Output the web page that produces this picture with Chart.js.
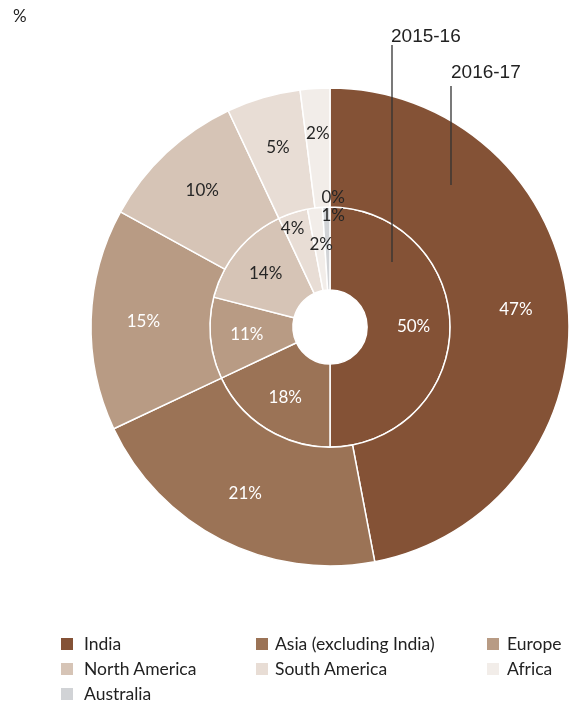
<!DOCTYPE html>
<html>
<head>
<meta charset="utf-8">
<script src="https://cdn.jsdelivr.net/npm/chart.js@4"></script>
<style>
  body { margin:0; background:#fff; }
  #wrap { position:relative; width:573px; height:705px; overflow:hidden; }
  #unit { position:absolute; left:13px; top:5px; font:17px Lato, "Open Sans", sans-serif; color:#222; }
  #legend { position:absolute; left:0; top:0; }
  .item { position:absolute; font:17.5px/22px Lato, "Open Sans", sans-serif; color:#222; white-space:nowrap; }
  .item span { position:absolute; left:0; top:5px; width:12px; height:12px; }
  .item b { font-weight:normal; position:absolute; top:0; }
</style>
</head>
<body>
<div id="wrap">
  <canvas id="c" width="573" height="705"></canvas>
  <div id="unit">%</div>
  <div id="legend"></div>
</div>
<script>
var categories = ["India", "Asia (excluding India)", "Europe", "North America", "South America", "Africa", "Australia"]
var share_2016_17 = [47, 21, 15, 10, 5, 2, 0]
var share_2015_16 = [50, 18, 11, 14, 4, 2, 1]
var years = ["2016-17", "2015-16"]
var colors = ["#845236", "#9b7356", "#b89b84", "#d6c4b6", "#e8ddd5", "#f2ede9", "#d1d3d6"]
var label_colors = ["#fff", "#fff", "#fff", "#262626", "#262626", "#262626", "#262626"]

// hand placed labels for the thin slices (ring index, slice index) -> [radius, angle shift]
var label_fix = {
  "0-5": [194, 0],
  "0-6": [130, 0.025],
  "1-4": [105, -0.05],
  "1-5": [83, 0.02],
  "1-6": [112, 0.06]
}

var labelPlugin = {
  id: "labels",
  afterDatasetsDraw: function (chart) {
    var ctx = chart.ctx
    ctx.save()
    ctx.font = "17px Lato, 'Open Sans', sans-serif"
    ctx.textAlign = "center"
    ctx.textBaseline = "middle"
    var cx, cy
    chart.data.datasets.forEach(function (ds, di) {
      var meta = chart.getDatasetMeta(di)
      meta.data.forEach(function (arc, i) {
        var p = arc.getProps(["x", "y", "startAngle", "endAngle", "innerRadius", "outerRadius"], true)
        cx = p.x; cy = p.y
        var a = (p.startAngle + p.endAngle) / 2
        var r = p.innerRadius + (p.outerRadius - p.innerRadius) * 0.56
        var fix = label_fix[di + "-" + i]
        if (fix) { r = fix[0]; a += fix[1] }
        ctx.fillStyle = label_colors[i]
        ctx.fillText(ds.data[i] + "%", p.x + Math.cos(a) * r, p.y + Math.sin(a) * r)
      })
    })
    // series callouts
    ctx.strokeStyle = "#333"
    ctx.lineWidth = 1.3
    ctx.beginPath()
    ctx.moveTo(cx + 62, 45); ctx.lineTo(cx + 62, cy - 65)
    ctx.moveTo(cx + 121, 86); ctx.lineTo(cx + 121, cy - 142)
    ctx.stroke()
    ctx.fillStyle = "#222"
    ctx.textAlign = "left"
    ctx.textBaseline = "alphabetic"
    ctx.font = "19px 'Liberation Sans', Arial, sans-serif"
    ctx.fillText(years[1], cx + 61, 42)
    ctx.fillText(years[0], cx + 121, 78)
    ctx.restore()
  }
}

new Chart(document.getElementById("c"), {
  type: "doughnut",
  data: {
    labels: categories,
    datasets: [
      { label: years[0], data: share_2016_17, backgroundColor: colors, borderColor: "#fff", borderWidth: 1.5, weight: 119 },
      { label: years[1], data: share_2015_16, backgroundColor: colors, borderColor: "#fff", borderWidth: 1.5, weight: 83 }
    ]
  },
  options: {
    responsive: false,
    animation: false,
    radius: 239,
    cutout: 37,
    layout: { padding: { left: 91, top: 88, right: 4, bottom: 139 } },
    plugins: { legend: { display: false }, tooltip: { enabled: false } }
  },
  plugins: [labelPlugin]
})

// legend, three columns: square x, text x
var colX = [[61, 84], [256, 275], [487, 507]], rowY = [633, 658, 683]
var leg = document.getElementById("legend")
categories.forEach(function (name, i) {
  var c = colX[i % 3]
  var d = document.createElement("div")
  d.className = "item"
  d.style.left = c[0] + "px"
  d.style.top = rowY[Math.floor(i / 3)] + "px"
  d.innerHTML = '<span style="background:' + colors[i] + '"></span><b style="left:' + (c[1] - c[0]) + 'px">' + name + '</b>'
  leg.appendChild(d)
})
</script>
</body>
</html>
